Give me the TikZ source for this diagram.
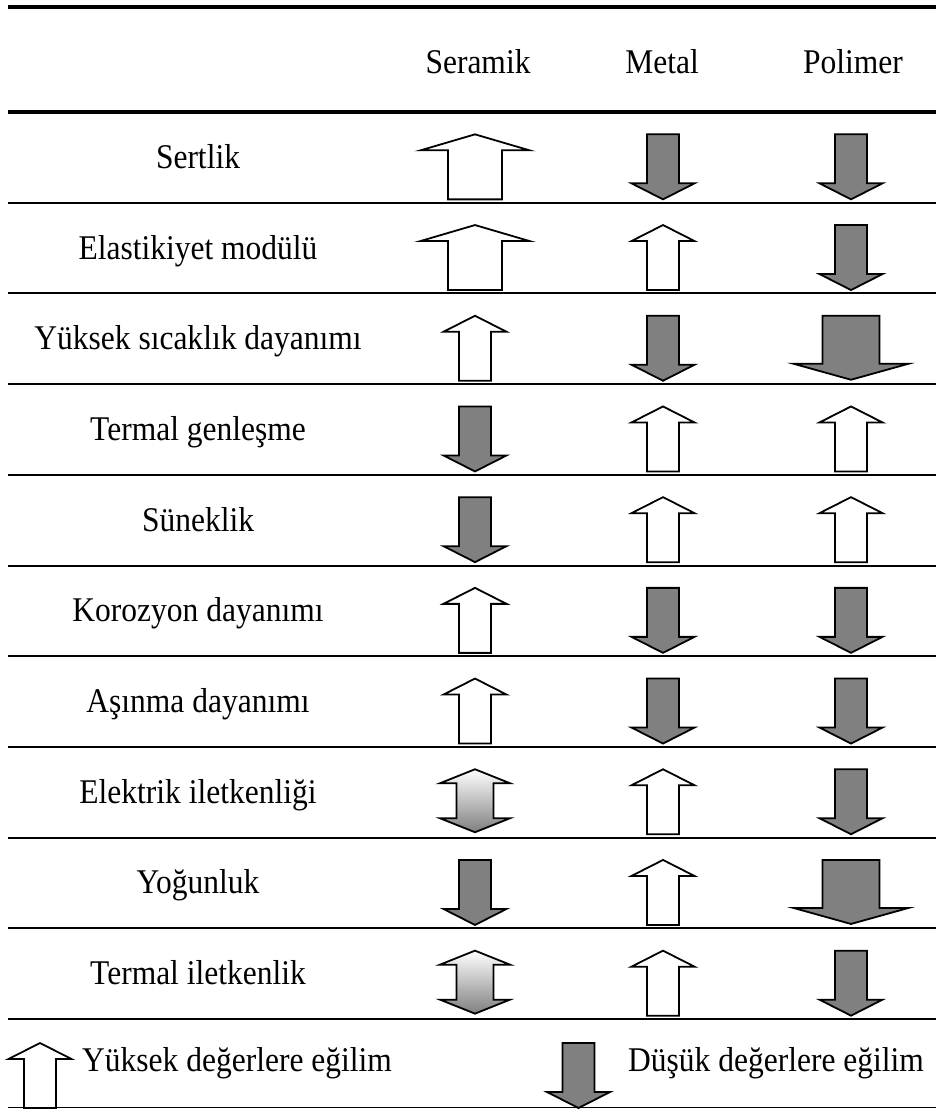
\documentclass[tikz,border=0pt]{standalone}
\usepackage{fontspec}
\setmainfont{Liberation Serif}
\definecolor{arrgray}{gray}{0.5}

\begin{document}
\begin{tikzpicture}[x=1pt, y=-1pt,
    rulebig/.style = {line width=4pt},
    rulerow/.style = {line width=2pt},
    arr/.style = {draw=black, line width=1.8pt, line join=miter},
    lbl/.style = {anchor=base, inner sep=0pt, yscale=1.1, transform shape, font=\fontsize{31.5}{38}\selectfont},
    up/.pic = {\draw[arr, fill=white] (0,-23) -- (31.5,-7) -- (16,-7) -- (16,42) -- (-16,42) -- (-16,-7) -- (-31.5,-7) -- cycle;},
    bigup/.pic = {\draw[arr, fill=white] (0,-23) -- (54.5,-7) -- (27,-7) -- (27,42) -- (-27,42) -- (-27,-7) -- (-54.5,-7) -- cycle;},
    down/.pic = {\draw[arr, fill=arrgray] (-16,-23) -- (16,-23) -- (16,26) -- (31.5,26) -- (0,42) -- (-31.5,26) -- (-16,26) -- cycle;},
    widedown/.pic = {\draw[arr, fill=arrgray] (-28.5,-23) -- (28.5,-23) -- (28.5,25) -- (57.5,25) -- (0,41) -- (-57.5,25) -- (-28.5,25) -- cycle;},
    updown/.pic = {\draw[arr, top color=white, bottom color=arrgray] (0,-23) -- (35,-9) -- (18.5,-9) -- (18.5,26) -- (35,26) -- (0,40) -- (-35,26) -- (-18.5,26) -- (-18.5,-9) -- (-35,-9) -- cycle;}]

    \useasboundingbox (0,0) rectangle (936,1110);

    % rules
    \draw[rulebig] (8,7) -- (936,7);
    \draw[line width=3.5pt] (8,112) -- (936,112);
    \foreach \k in {1,...,10}
        \draw[rulerow] (8,112+90.7*\k) -- (936,112+90.7*\k);
    \draw[line width=1.5pt] (8,1107.5) -- (936,1107.5);

    % header
    \node[lbl] (ser) at (478,74) {Seramik};
    \node[lbl] (met) at (662,74) {Metal};
    \node[lbl] (pol) at (853,74) {Polimer};

    % rows
    \foreach \lab/\a/\b/\c [count=\i] in {
        Sertlik/bigup/down/down,
        Elastikiyet modülü/bigup/up/down,
        Yüksek sıcaklık dayanımı/up/down/widedown,
        Termal genleşme/down/up/up,
        Süneklik/down/up/up,
        Korozyon dayanımı/up/down/down,
        Aşınma dayanımı/up/down/down,
        Elektrik iletkenliği/updown/up/down,
        Yoğunluk/down/up/widedown,
        Termal iletkenlik/updown/up/down}
    {
        \pgfmathsetmacro\cy{112+90.7*(\i-1)+45.35}
        \node[lbl] (row\i) at (198,\cy+11) {\lab};
        \pic (s\i) at (475,\cy) {\a};
        \pic (m\i) at (663,\cy) {\b};
        \pic (p\i) at (851,\cy) {\c};
    }

    % legend
    \pic (lgup) at (40,1066) {up};
    \node[lbl, anchor=base west] (lgupt) at (82,1071) {Yüksek değerlere eğilim};
    \pic (lgdown) at (578.5,1066) {down};
    \node[lbl, anchor=base west] (lgdownt) at (628,1071) {Düşük değerlere eğilim};

\end{tikzpicture}
\end{document}
